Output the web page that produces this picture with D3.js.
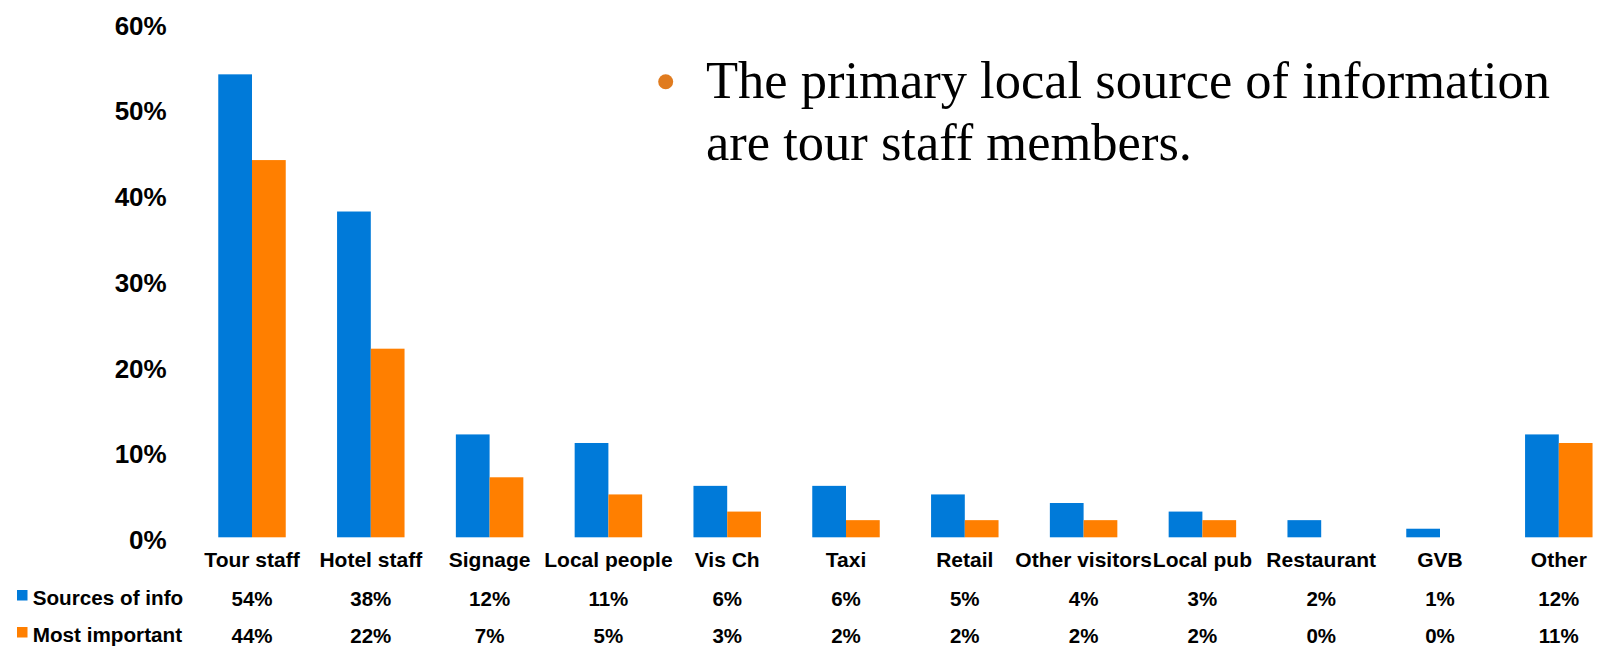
<!DOCTYPE html>
<html>
<head>
<meta charset="utf-8">
<script src="https://cdn.jsdelivr.net/npm/d3@7"></script>
<style>
    html, body { margin: 0; padding: 0; background: #fff; }
    svg { display: block; }
</style>
</head>
<body>
<div id="chart"></div>
<script>
// Data
const categories = ['Tour staff', 'Hotel staff', 'Signage', 'Local people', 'Vis Ch', 'Taxi', 'Retail', 'Other visitors', 'Local pub', 'Restaurant', 'GVB', 'Other']
const seriesNames = ['Sources of info', 'Most important']
const sourcesOfInfo = [0.54, 0.38, 0.12, 0.11, 0.06, 0.06, 0.05, 0.04, 0.03, 0.02, 0.01, 0.12]
const mostImportant = [0.44, 0.22, 0.07, 0.05, 0.03, 0.02, 0.02, 0.02, 0.02, 0.00, 0.00, 0.11]
const yTicks = [0, 0.1, 0.2, 0.3, 0.4, 0.5, 0.6]
const bulletLines = ['The primary local source of information', 'are tour staff members.']

const config = {
    w: 1598,
    h: 646,
    baseline: 537.3,
    top: 22.9,
    colors: ['#007ad9', '#ff7f00'],
    bulletColor: '#e07b1f',
    sans: "'Liberation Sans', Arial, sans-serif",
    serif: "'Liberation Serif', 'Times New Roman', serif",
}

const series = [sourcesOfInfo, mostImportant]

const svg = d3
    .select('#chart')
    .append('svg')
    .attr('width', config.w)
    .attr('height', config.h)

// Scales
const xScale = d3
    .scaleBand()
    .domain(categories)
    .range([192.6, 1618.2])
    .paddingInner(0.432)
    .paddingOuter(0.216)

const subScale = d3
    .scaleBand()
    .domain(seriesNames)
    .range([0, xScale.bandwidth()])

const yScale = d3
    .scaleLinear()
    .domain([0, 0.6])
    .range([config.baseline, config.top])

// Bars
const groups = svg
    .append('g')
    .selectAll('g')
    .data(categories)
    .join('g')
    .attr('transform', (d) => `translate(${xScale(d)},0)`)

groups
    .selectAll('rect')
    .data((d, i) => seriesNames.map((s, j) => ({ s, j, v: series[j][i] })))
    .join('rect')
    .attr('x', (d) => subScale(d.s))
    .attr('y', (d) => yScale(d.v))
    .attr('width', subScale.bandwidth())
    .attr('height', (d) => config.baseline - yScale(d.v))
    .attr('fill', (d) => config.colors[d.j])

// Y axis (labels only)
const yAxis = d3
    .axisLeft(yScale)
    .tickValues(yTicks)
    .tickFormat(d3.format('.0%'))
    .tickSize(0)
    .tickPadding(0)

const yAxisG = svg
    .append('g')
    .attr('transform', 'translate(166.7,0)')
    .call(yAxis)
yAxisG.select('.domain').remove()
yAxisG
    .selectAll('text')
    .attr('dy', 11.3)
    .style('font-family', config.sans)
    .style('font-size', '26px')
    .style('font-weight', 'bold')
    .style('fill', '#000')

// Category labels
const xAxis = d3.axisBottom(xScale).tickSize(0).tickPadding(0)
const xAxisG = svg
    .append('g')
    .attr('transform', `translate(0,${config.baseline})`)
    .call(xAxis)
xAxisG.select('.domain').remove()
xAxisG
    .selectAll('text')
    .attr('y', 0)
    .attr('dy', 29.4)
    .style('font-family', config.sans)
    .style('font-size', '21px')
    .style('font-weight', 'bold')
    .style('fill', '#000')

// Data table below the chart
const rowBaselines = [604.5, 641.5]
seriesNames.forEach((name, j) => {
    const row = svg.append('g')
    row.append('rect')
        .attr('x', 17)
        .attr('y', rowBaselines[j] - 14.5)
        .attr('width', 10.5)
        .attr('height', 10.5)
        .attr('fill', config.colors[j])
    row.append('text')
        .attr('x', 32.7)
        .attr('y', rowBaselines[j])
        .style('font-family', config.sans)
        .style('font-size', '20.7px')
        .style('font-weight', 'bold')
        .text(name)
    row.selectAll('text.val')
        .data(series[j])
        .join('text')
        .attr('class', 'val')
        .attr('x', (d, i) => xScale(categories[i]) + xScale.bandwidth() / 2)
        .attr('y', rowBaselines[j] + 1.5)
        .attr('text-anchor', 'middle')
        .style('font-family', config.sans)
        .style('font-size', '20.5px')
        .style('font-weight', 'bold')
        .text((d) => d3.format('.0%')(d))
})

// Bullet annotation
svg.append('circle')
    .attr('cx', 665.7)
    .attr('cy', 81.7)
    .attr('r', 7.5)
    .attr('fill', config.bulletColor)

svg.append('g')
    .selectAll('text')
    .data(bulletLines)
    .join('text')
    .attr('x', 706)
    .attr('y', (d, i) => 98.3 + i * 61.7)
    .style('font-family', config.serif)
    .style('font-size', '52.5px')
    .style('fill', '#000')
    .text((d) => d)
</script>
</body>
</html>
